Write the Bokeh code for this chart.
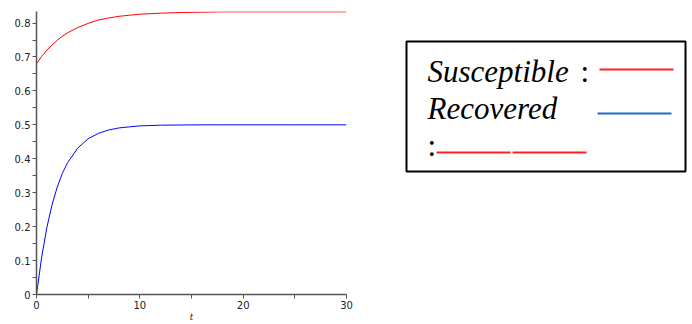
from bokeh.plotting import figure
from bokeh.layouts import row
from bokeh.models import Range1d, FixedTicker
from bokeh.core.properties import value
from bokeh.embed import file_html
from bokeh.resources import INLINE

# data
t = [0, 0.5, 1, 1.5, 2, 2.5, 3, 4, 5, 6, 7, 8, 9, 10, 12, 14, 16, 18, 20, 25, 30]
susceptible = [0.680, 0.702, 0.720, 0.735, 0.749, 0.761, 0.771, 0.787, 0.799, 0.809, 0.815,
               0.820, 0.823, 0.826, 0.829, 0.831, 0.832, 0.833, 0.833, 0.833, 0.833]
recovered = [0.0, 0.110, 0.197, 0.264, 0.316, 0.357, 0.388, 0.432, 0.459, 0.475, 0.485,
             0.491, 0.494, 0.497, 0.499, 0.4995, 0.5, 0.5, 0.5, 0.5, 0.5]
x_ticks = [0, 10, 20, 30]
x_minor = [5, 15, 25]
y_ticks = [0, 0.1, 0.2, 0.3, 0.4, 0.5, 0.6, 0.7, 0.8]
y_minor = [0.05, 0.15, 0.25, 0.35, 0.45, 0.55, 0.65, 0.75]
legend_labels = ["Susceptible", "Recovered"]
legend_colors = ["#ff2020", "#1a6fc4"]

TOP, FH, BOT = 11, 283, 30

p = figure(frame_width=310, frame_height=FH, output_backend="svg", toolbar_location=None,
           x_range=Range1d(0, 30), y_range=Range1d(0, 0.834),
           min_border_left=36, min_border_right=7, min_border_top=TOP, min_border_bottom=BOT)
p.line(t, susceptible, color="#ff0000", line_width=1)
p.line(t, recovered, color="#0000ff", line_width=1)
p.grid.visible = False
p.outline_line_color = None
p.xaxis.ticker = FixedTicker(ticks=x_ticks, minor_ticks=x_minor)
p.yaxis.ticker = FixedTicker(ticks=y_ticks, minor_ticks=y_minor)
p.yaxis.major_label_overrides = {0: "0"}
for ax in (p.xaxis, p.yaxis):
    ax.axis_line_color = "#555555"
    ax.axis_line_width = 1.5
    ax.major_tick_line_color = "#555555"
    ax.minor_tick_line_color = "#555555"
    ax.major_tick_in = 0
    ax.major_tick_out = 4
    ax.minor_tick_in = 0
    ax.minor_tick_out = 4
    ax.major_label_text_font = "DejaVu Sans"
    ax.major_label_text_font_size = "10px"
    ax.major_label_text_color = "#222222"
    ax.major_label_standoff = 2
p.xaxis.axis_label = "t"
p.xaxis.axis_label_text_font = "DejaVu Serif"
p.xaxis.axis_label_text_font_style = "italic"
p.xaxis.axis_label_text_font_size = "9px"
p.xaxis.axis_label_text_color = "#222222"
p.xaxis.axis_label_standoff = 0

# legend panel (data coordinates = page pixel rows; frame aligned with main plot)
W = 339
q = figure(frame_width=W, frame_height=FH, output_backend="svg", toolbar_location=None,
           x_range=Range1d(0, W), y_range=Range1d(TOP + FH, TOP),
           x_axis_location=None, y_axis_location=None,
           min_border_left=0, min_border_right=0, min_border_top=TOP, min_border_bottom=BOT)
q.grid.visible = False
q.outline_line_color = None
q.quad(left=[53], right=[332], top=[41], bottom=[171], fill_color=None,
       line_color="black", line_width=2)
font = value("Liberation Serif")
q.text(x=[74, 74], y=[71, 108], text=legend_labels, text_font=font,
       text_font_style="italic", text_font_size="31px", text_baseline="alphabetic",
       text_color="black")
q.text(x=[227, 74], y=[71, 145], text=[":", ":"], text_font=font,
       text_font_size="31px", text_baseline="alphabetic", text_color="black")
q.segment(x0=[246, 244, 83, 159], y0=[69, 113, 152, 152],
          x1=[320, 318, 157, 233], y1=[69, 113, 152, 152],
          line_color=[legend_colors[0], legend_colors[1], legend_colors[0], legend_colors[0]],
          line_width=2)

layout = row(p, q)
open("out.html", "w").write(file_html(layout, INLINE))
